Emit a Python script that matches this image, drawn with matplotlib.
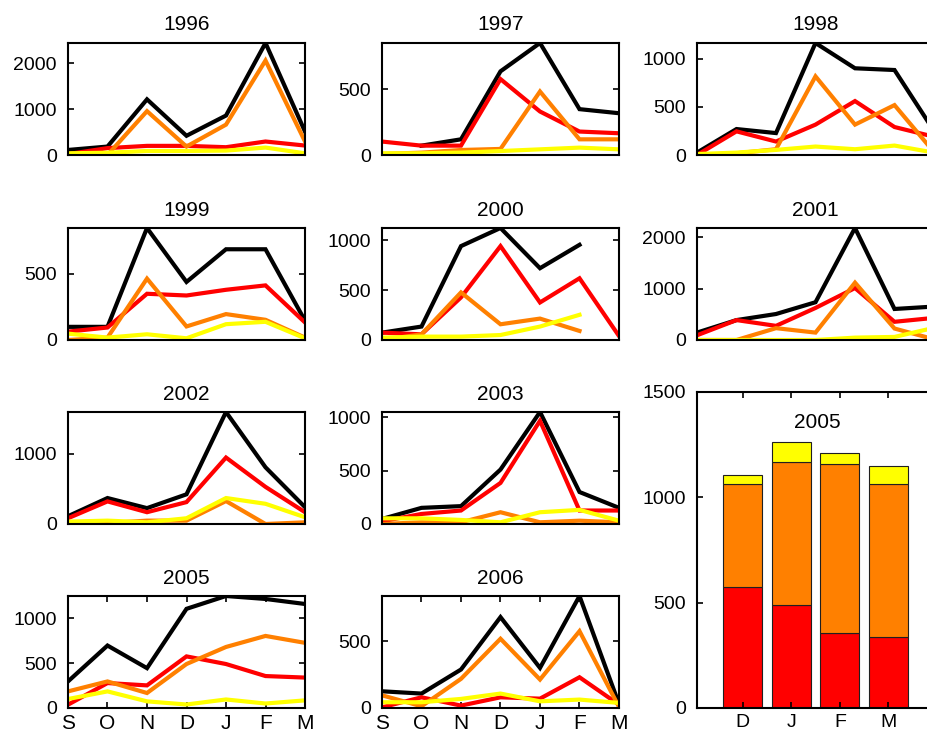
import numpy as np
import matplotlib
matplotlib.use("Agg")
import matplotlib.pyplot as plt

plt.rcParams['font.family'] = ['Liberation Sans', 'DejaVu Sans']

months = ['S', 'O', 'N', 'D', 'J', 'F', 'M']
years = ['1996', '1997', '1998', '1999', '2000', '2001', '2002', '2003', '2005', '2006']
nan = np.nan

total = [
    [110, 184, 1213, 419, 860, 2441, 510],
    [nan, 71, 119, 635, 850, 348, 317],
    [25, 270, 228, 1165, 902, 884, 250],
    [99, 99, 843, 437, 683, 683, 145],
    [74, 135, 943, 1125, 721, 956, nan],
    [144, 387, 505, 734, 2177, 603, 650],
    [111, 370, 226, 423, 1596, 808, 240],
    [47, 151, 167, 509, 1047, 299, 151],
    [296, 696, 444, 1105, 1248, 1215, 1159],
    [125, 108, 288, 680, 300, 838, 30],
]
red = [
    [20, 150, 199, 199, 170, 294, 206],
    [102, 71, 71, 576, 330, 178, 165],
    [0, 246, 140, 316, 561, 291, 190],
    [63, 94, 348, 335, 378, 411, 132],
    [74, 57, 428, 943, 377, 620, 40],
    [92, 387, 275, 623, 1010, 354, 430],
    [82, 322, 168, 312, 947, 529, 168],
    [25, 94, 126, 384, 965, 126, 126],
    [37, 278, 252, 575, 490, 356, 339],
    [5, 80, 18, 80, 70, 230, 25],
]
orange = [
    [0, 0, 956, 184, 662, 2059, 294],
    [8, 18, 38, 46, 482, 119, 119],
    [0, 18, 60, 818, 316, 519, 30],
    [0, 18, 462, 102, 195, 152, 18],
    [0, 57, 478, 158, 215, 91, nan],
    [0, 0, 230, 144, 1115, 223, 15],
    [0, 14, 48, 48, 327, 0, 24],
    [0, 16, 16, 110, 16, 31, 16],
    [185, 296, 167, 490, 680, 803, 726],
    [95, 13, 218, 518, 213, 575, 8],
]
yellow = [
    [37, 50, 88, 88, 96, 162, 37],
    [13, 13, 18, 30, 43, 56, 43],
    [10, 25, 53, 88, 60, 98, 25],
    [48, 18, 43, 13, 119, 137, 13],
    [24, 34, 34, 50, 135, 253, nan],
    [0, 0, 0, 0, 46, 60, 236],
    [34, 48, 24, 82, 370, 288, 96],
    [53, 53, 38, 16, 110, 132, 31],
    [100, 185, 74, 39, 95, 50, 85],
    [43, 43, 68, 108, 50, 63, 38],
]
ytick_step = [1000, 500, 500, 500, 500, 1000, 1000, 500, 500, 500]

bar_months = ['D', 'J', 'F', 'M']
bar_red = [575, 490, 356, 339]
bar_orange = [490, 680, 803, 726]
bar_yellow = [39, 95, 50, 85]
bar_title = '2005'
bar_yticks = [0, 500, 1000, 1500]

colors = {'total': '#000000', 'red': '#FF0000', 'orange': '#FF8000', 'yellow': '#FFFF00'}

W, H = 928, 737
fig = plt.figure(figsize=(W / 100, H / 100), dpi=100)

col_left = [68, 382, 697]
row_top = [43, 228, 412, 596]
ax_w, ax_h = 237, 112
# grid slots (row, col) for each year panel
slots = [(0, 0), (0, 1), (0, 2), (1, 0), (1, 1), (1, 2), (2, 0), (2, 1), (3, 0), (3, 1)]

def px_axes(left, top, w, h):
    return fig.add_axes([left / W, 1 - (top + h) / H, w / W, h / H])

def style(ax):
    for s in ax.spines.values():
        s.set_linewidth(1.5)
    ax.tick_params(direction='in', length=4, width=1.2, left=True, right=True,
                   top=True, bottom=True, labelsize=14)
    ax.tick_params(axis='y', pad=8)

x = np.arange(len(months))
for i, yr in enumerate(years):
    r, c = slots[i]
    ax = px_axes(col_left[c], row_top[r], ax_w, ax_h)
    series = [(total[i], 'total'), (red[i], 'red'), (orange[i], 'orange'), (yellow[i], 'yellow')]
    for vals, key in series:
        ax.plot(x, np.array(vals, dtype=float), color=colors[key], lw=3.0,
                solid_joinstyle='miter')
    ymax = np.nanmax(np.array([total[i], red[i], orange[i], yellow[i]], dtype=float))
    ax.set_xlim(0, 6)
    ax.set_ylim(0, ymax)
    ticks = np.arange(0, ymax + 1, ytick_step[i])
    ax.set_yticks(ticks)
    ax.set_yticklabels([str(int(t)) for t in ticks])
    style(ax)
    if r == 3:
        ax.set_xticks(x)
        ax.set_xticklabels(months, fontsize=15)
        ax.tick_params(axis='x', pad=4)
    else:
        ax.set_xticks([])
    ax.set_title(yr, fontsize=15, pad=9)

# stacked bar panel
axb = px_axes(697, 392, 240, 316)
bx = np.arange(1, len(bar_months) + 1)
axb.bar(bx, bar_red, width=0.8, color=colors['red'], edgecolor='#202020', linewidth=0.8)
axb.bar(bx, bar_orange, width=0.8, bottom=bar_red, color=colors['orange'],
        edgecolor='#202020', linewidth=0.8)
bottom2 = [a + b for a, b in zip(bar_red, bar_orange)]
axb.bar(bx, bar_yellow, width=0.8, bottom=bottom2, color=colors['yellow'],
        edgecolor='#202020', linewidth=0.8)
axb.set_xlim(0.06, 5.0)
axb.set_ylim(0, 1500)
axb.set_yticks(bar_yticks)
axb.set_yticklabels([str(t) for t in bar_yticks])
axb.set_xticks(bx)
axb.set_xticklabels(bar_months, fontsize=15)
style(axb)
axb.tick_params(axis='x', pad=4)
axb.text(0.5, 0.905, bar_title, transform=axb.transAxes, ha='center', va='center', fontsize=15)

fig.savefig('out.png', dpi=100)
